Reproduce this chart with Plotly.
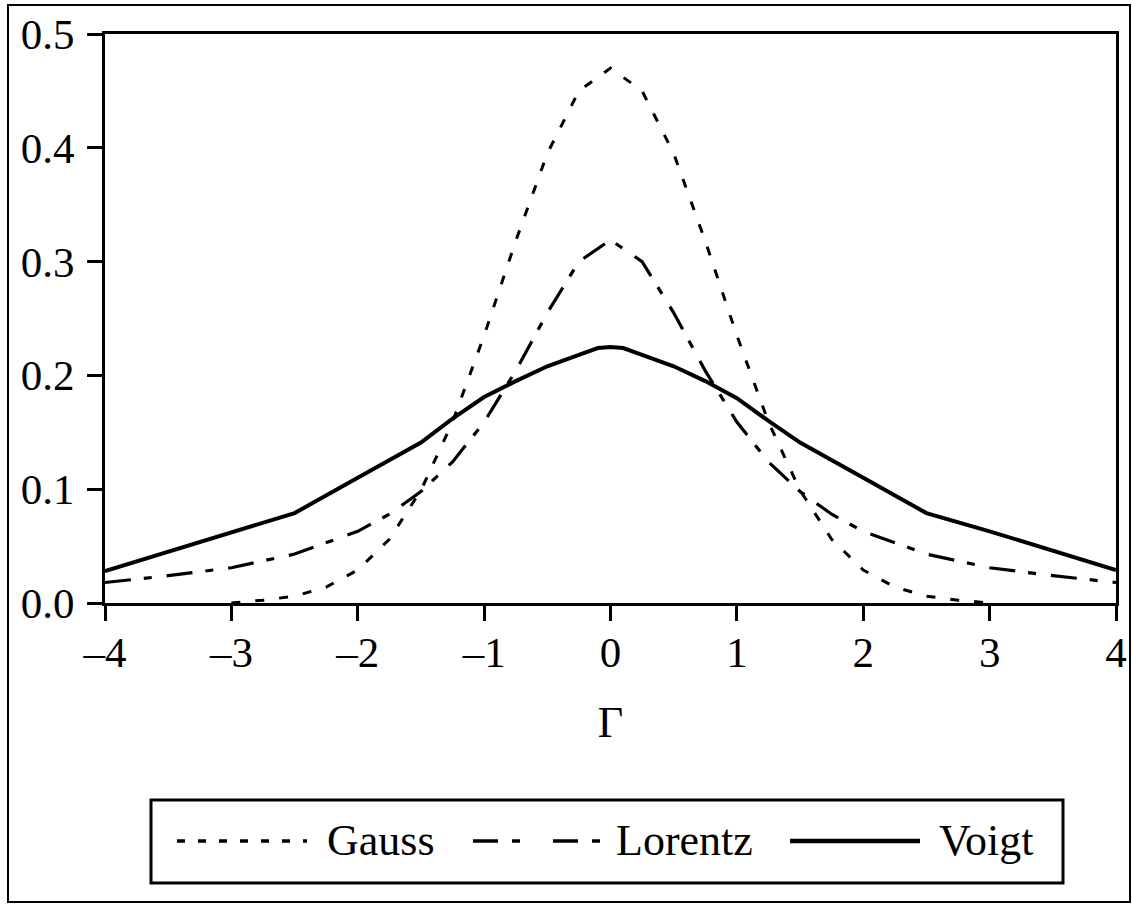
import plotly.graph_objects as go

# ---------------- data ----------------
gauss_x = [-3.0, -2.75, -2.5, -2.25, -2.0, -1.75, -1.5, -1.25,
           -1.0, -0.75, -0.5, -0.25, 0.0, 0.25, 0.5, 0.75, 1.0, 1.25, 1.5, 1.75,
           2.0, 2.25, 2.5, 2.75, 3.0]
gauss_y = [0.0, 0.0025, 0.006, 0.014, 0.029, 0.056, 0.099, 0.159,
           0.235, 0.318, 0.395, 0.450, 0.470, 0.450, 0.395, 0.318, 0.235, 0.159, 0.099, 0.056,
           0.029, 0.014, 0.006, 0.0025, 0.0]

lorentz_x = [-4.0, -3.5, -3.0, -2.5, -2.0, -1.75, -1.5, -1.25, -1.0, -0.75, -0.5, -0.25, 0.0,
             0.25, 0.5, 0.75, 1.0, 1.25, 1.5, 1.75, 2.0, 2.5, 3.0, 3.5, 4.0]
lorentz_y = [0.018, 0.024, 0.031, 0.043, 0.063, 0.078, 0.098, 0.124, 0.159, 0.204, 0.255, 0.300, 0.319,
             0.300, 0.255, 0.204, 0.159, 0.124, 0.098, 0.078, 0.063, 0.043, 0.031, 0.024, 0.018]

voigt_x = [-4.0, -3.5, -3.0, -2.5, -2.0, -1.5, -1.25, -1.0, -0.75, -0.5, -0.25, -0.1, 0.0,
           0.1, 0.25, 0.5, 0.75, 1.0, 1.25, 1.5, 2.0, 2.5, 3.0, 3.5, 4.0]
voigt_y = [0.028, 0.045, 0.062, 0.079, 0.110, 0.141, 0.162, 0.181, 0.195, 0.208, 0.218, 0.224, 0.225,
           0.224, 0.218, 0.208, 0.195, 0.180, 0.160, 0.141, 0.110, 0.079, 0.063, 0.046, 0.029]

series_names = ["Gauss", "Lorentz", "Voigt"]

x_tickvals = [-4, -3, -2, -1, 0, 1, 2, 3, 4]
x_ticktext = ["\u20134", "\u20133", "\u20132", "\u20131", "0", "1", "2", "3", "4"]
y_tickvals = [0.0, 0.1, 0.2, 0.3, 0.4, 0.5]
y_ticktext = ["0.0", "0.1", "0.2", "0.3", "0.4", "0.5"]
x_title = "\u0393"

# ---------------- styles ----------------
FONT = "Liberation Serif"
styles = {
    "Gauss":   dict(width=3, dash="9px,15px", legend_dash="8px,13px"),
    "Lorentz": dict(width=3.2, dash="26px,13px,8px,15px", legend_dash="25px,14px,8px,33px"),
    "Voigt":   dict(width=4, dash="solid", legend_dash="solid"),
}
data = {
    "Gauss": (gauss_x, gauss_y),
    "Lorentz": (lorentz_x, lorentz_y),
    "Voigt": (voigt_x, voigt_y),
}

fig = go.Figure()
for name in series_names:
    xs, ys = data[name]
    st = styles[name]
    fig.add_trace(go.Scatter(
        x=xs, y=ys, mode="lines", name=name, showlegend=False,
        line=dict(color="black", width=st["width"], dash=st["dash"]),
    ))

W, H = 1133, 905
L, R, T, B = 105, 17, 34, 302
pw, ph = W - L - R, H - T - B


def px_x(p):
    return (p - L) / pw


def px_y(p):
    return (H - B - p) / ph


shapes = []
annotations = []

# outer frame
shapes.append(dict(type="rect", xref="paper", yref="paper",
                   x0=px_x(8), x1=px_x(1130), y0=px_y(902), y1=px_y(5),
                   line=dict(color="black", width=2), fillcolor="rgba(0,0,0,0)"))
# legend box
shapes.append(dict(type="rect", xref="paper", yref="paper",
                   x0=px_x(151), x1=px_x(1063), y0=px_y(883), y1=px_y(800),
                   line=dict(color="black", width=3), fillcolor="rgba(0,0,0,0)"))

legend_items = {
    "Gauss": (177, 307, 325),
    "Lorentz": (473, 600, 614),
    "Voigt": (790, 920, 937),
}
ly = 841
for name in series_names:
    x0, x1, tx = legend_items[name]
    st = styles[name]
    shapes.append(dict(type="line", xref="paper", yref="paper",
                       x0=px_x(x0), x1=px_x(x1), y0=px_y(ly), y1=px_y(ly),
                       line=dict(color="black", width=st["width"] + 0.5, dash=st["legend_dash"])))
    annotations.append(dict(text=name, xref="paper", yref="paper",
                            x=px_x(tx), y=px_y(ly - 1), xanchor="left", yanchor="middle",
                            showarrow=False, font=dict(family=FONT, size=44, color="black")))

fig.update_layout(
    template="none",
    width=W, height=H,
    margin=dict(l=L, r=R, t=T, b=B, pad=0),
    paper_bgcolor="white", plot_bgcolor="white",
    font=dict(family=FONT, size=43, color="black"),
    shapes=shapes, annotations=annotations,
    showlegend=False,
)
fig.update_xaxes(
    range=[-4, 4], tickvals=x_tickvals, ticktext=x_ticktext,
    ticks="outside", ticklen=15, tickwidth=3, tickcolor="black",
    showline=True, linewidth=3, linecolor="black", mirror=True,
    showgrid=False, zeroline=False, automargin=False,
    ticklabelstandoff=-6,
    tickfont=dict(family=FONT, size=43, color="black"),
    title=dict(text=x_title, standoff=32, font=dict(family=FONT, size=44, color="black")),
)
fig.update_yaxes(
    range=[0, 0.5], tickvals=y_tickvals, ticktext=y_ticktext,
    ticks="outside", ticklen=15, tickwidth=3, tickcolor="black",
    showline=True, linewidth=3, linecolor="black", mirror=True,
    showgrid=False, zeroline=False, automargin=False,
    ticklabelstandoff=4,
    tickfont=dict(family=FONT, size=43, color="black"),
)

fig.write_html("out.html")
